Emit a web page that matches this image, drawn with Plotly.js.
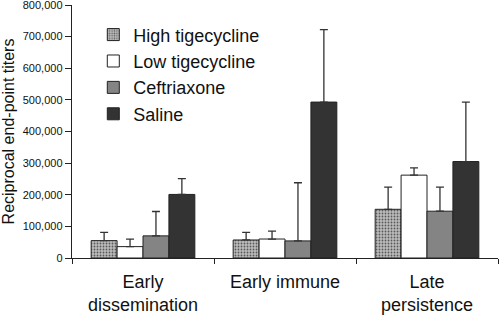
<!DOCTYPE html>
<html>
<head>
<meta charset="utf-8">
<script src="https://cdn.plot.ly/plotly-3.0.1.min.js"></script>
<style>html,body{margin:0;padding:0;background:#fff;}#chart{width:500px;height:316px;}</style>
</head>
<body>
<div id="chart"></div>
<script>
const categories = ["Early<br>dissemination", "Early immune", "Late<br>persistence"];
const seriesNames = ["High tigecycline", "Low tigecycline", "Ceftriaxone", "Saline"];
const highTige = [55000, 57000, 154000];
const highTigeErr = [26000, 24000, 70000];
const lowTige = [36000, 60000, 262000];
const lowTigeErr = [24000, 25000, 23000];
const ceftriaxone = [70000, 54000, 148000];
const ceftriaxoneErr = [77000, 184000, 76000];
const saline = [201000, 493000, 305000];
const salineErr = [50000, 229000, 188000];
const yTickVals = [0, 100000, 200000, 300000, 400000, 500000, 600000, 700000, 800000];
const yTickText = ["0", "100,000", "200,000", "300,000", "400,000", "500,000", "600,000", "700,000", "800,000"];

const values = [highTige, lowTige, ceftriaxone, saline];
const errs = [highTigeErr, lowTigeErr, ceftriaxoneErr, salineErr];
const fills = ["#b4b4b4", "#ffffff", "#848484", "#333333"];

const traces = values.map((v, i) => {
  const marker = {color: fills[i], line: {color: "#222", width: 1}};
  if (i === 0) {
    marker.pattern = {shape: ".", fgcolor: "#5a5a5a", bgcolor: "#bcbcbc", size: 3, solidity: 0.3, fillmode: "replace"};
  }
  return {
    type: "bar",
    name: seriesNames[i],
    x: categories,
    y: v,
    marker: marker,
    error_y: {type: "data", array: errs[i], arrayminus: errs[i].map(() => 0), symmetric: false, color: "#333", thickness: 1.3, width: 4}
  };
});

const layout = {
  width: 500, height: 316,
  margin: {l: 72, r: 2, t: 5, b: 58},
  paper_bgcolor: "#fff", plot_bgcolor: "#fff",
  font: {family: "Liberation Sans, Arial, sans-serif", color: "#111"},
  barmode: "group",
  bargap: 0.27,
  bargroupgap: 0,
  showlegend: true,
  legend: {x: 0.05, y: 0.955, xanchor: "left", yanchor: "top", bgcolor: "rgba(0,0,0,0)", font: {size: 18, color: "#111"}, itemwidth: 30, tracegroupgap: 0},
  xaxis: {
    showline: true, linecolor: "#222", linewidth: 1.3,
    ticks: "outside", tickson: "boundaries", ticklen: 5, tickcolor: "#222",
    tickfont: {size: 18, color: "#111"},
    ticklabelstandoff: 7,
    showgrid: false, zeroline: false
  },
  yaxis: {
    range: [0, 800000],
    tickvals: yTickVals, ticktext: yTickText,
    showline: true, linecolor: "#222", linewidth: 1.3,
    ticks: "outside", ticklen: 6, tickcolor: "#222",
    tickfont: {size: 11, color: "#111"},
    ticklabeloverflow: "allow",
    showgrid: false, zeroline: false,
    title: {text: "Reciprocal end-point titers", font: {size: 16, color: "#111"}, standoff: 4}
  }
};

Plotly.newPlot("chart", traces, layout, {displayModeBar: false, staticPlot: true});
</script>
</body>
</html>
